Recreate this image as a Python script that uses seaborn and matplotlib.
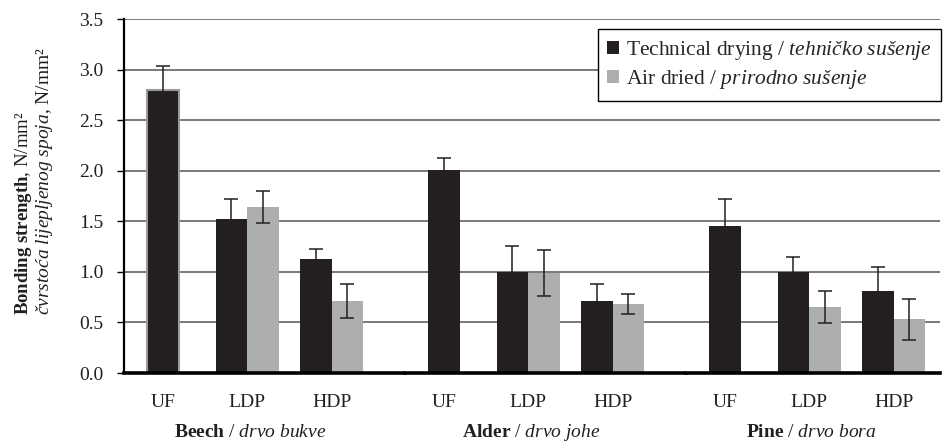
import numpy as np
import pandas as pd
import matplotlib
matplotlib.use("Agg")
import matplotlib.pyplot as plt
import seaborn as sns
from matplotlib.transforms import blended_transform_factory

# ---------------- data ----------------
species = ["Beech", "Alder", "Pine"]
species_local = ["drvo bukve", "drvo johe", "drvo bora"]
adhesives = ["UF", "LDP", "HDP"]

tech_name = "Technical drying"
tech_local = "tehničko sušenje"
air_name = "Air dried"
air_local = "prirodno sušenje"

# Technical drying: mean and error per species (UF, LDP, HDP)
beech_tech = [2.80, 1.52, 1.13]
alder_tech = [2.01, 1.00, 0.71]
pine_tech = [1.45, 1.00, 0.81]
beech_tech_err = [0.24, 0.20, 0.10]
alder_tech_err = [0.12, 0.26, 0.17]
pine_tech_err = [0.27, 0.15, 0.24]

# Air dried: no UF value
beech_air = [np.nan, 1.64, 0.71]
alder_air = [np.nan, 0.99, 0.68]
pine_air = [np.nan, 0.65, 0.53]
beech_air_err = [np.nan, 0.16, 0.17]
alder_air_err = [np.nan, 0.23, 0.10]
pine_air_err = [np.nan, 0.16, 0.20]

y_ticks = [0.0, 0.5, 1.0, 1.5, 2.0, 2.5, 3.0, 3.5]

# ---------------- style ----------------
sns.set_style("white")
plt.rcParams["font.family"] = ["Liberation Serif", "DejaVu Serif"]
plt.rcParams["mathtext.fontset"] = "custom"
plt.rcParams["mathtext.rm"] = "Liberation Serif"
plt.rcParams["mathtext.it"] = "Liberation Serif:italic"
plt.rcParams["mathtext.bf"] = "Liberation Serif:bold"

DARK = "#231f20"
GREY = "#adaeb0"
GRID = "#6e6e6e"
FS = 14

def mt(s):
    return s.replace(" ", r"\ ")

tech_lbl = tech_name + " / $\\mathit{" + mt(tech_local) + "}$"
air_lbl = air_name + " / $\\mathit{" + mt(air_local) + "}$"

tech_vals = {"Beech": (beech_tech, beech_tech_err),
             "Alder": (alder_tech, alder_tech_err),
             "Pine": (pine_tech, pine_tech_err)}
air_vals = {"Beech": (beech_air, beech_air_err),
            "Alder": (alder_air, alder_air_err),
            "Pine": (pine_air, pine_air_err)}

rows = []
for sp in species:
    for i, ad in enumerate(adhesives):
        m, e = tech_vals[sp]
        rows.append(dict(species=sp, adhesive=ad, drying=tech_lbl, value=m[i], err=e[i]))
        m, e = air_vals[sp]
        rows.append(dict(species=sp, adhesive=ad, drying=air_lbl, value=m[i], err=e[i]))
df = pd.DataFrame(rows).dropna()

# ---------------- figure ----------------
fig = plt.figure(figsize=(9.43, 4.43), dpi=100)
gs = fig.add_gridspec(1, 3, width_ratios=[281, 281, 254],
                      left=124 / 943, right=940 / 943,
                      bottom=1 - 373 / 443, top=1 - 19 / 443, wspace=0)
axes = []
for k in range(3):
    ax = fig.add_subplot(gs[0, k], sharey=axes[0] if axes else None)
    axes.append(ax)

px_per_cat = 84.4
bar_w = 31.5 / px_per_cat
handles, labels = None, None
for k, (ax, sp, sp_loc) in enumerate(zip(axes, species, species_local)):
    sub = df[df.species == sp]
    single = sub[sub.adhesive == "UF"]
    pair = sub[sub.adhesive != "UF"]
    sns.barplot(data=single, x="adhesive", y="value", order=adhesives,
                color=DARK, width=bar_w, saturation=1, errorbar=None, ax=ax,
                edgecolor=("#9a9a9a" if sp == "Beech" else DARK),
                linewidth=(1.5 if sp == "Beech" else 0))
    sns.barplot(data=pair, x="adhesive", y="value", order=adhesives,
                hue="drying", hue_order=[tech_lbl, air_lbl],
                palette=[DARK, GREY], width=2 * bar_w, saturation=1,
                errorbar=None, ax=ax, linewidth=0)
    if k == 0:
        handles, labels = ax.get_legend_handles_labels()
    if ax.get_legend() is not None:
        ax.get_legend().remove()

    # error bars positioned on the drawn bars
    for bar in ax.patches:
        h = bar.get_height()
        if not np.isfinite(h) or h <= 0:
            continue
        cx = bar.get_x() + bar.get_width() / 2
        match = sub.iloc[(sub.value - h).abs().argsort()[:1]]
        e = float(match.err.iloc[0])
        ax.errorbar(cx, h, yerr=e, fmt="none", ecolor=DARK, elinewidth=1.1,
                    capsize=5, capthick=1.1, zorder=5)

    span = (281 if k < 2 else 254) / px_per_cat
    ax.set_xlim(-0.46, -0.46 + span)
    ax.set_ylim(0, 3.5)
    ax.set_xlabel("")
    ax.set_ylabel("")
    ax.set_axisbelow(True)
    ax.yaxis.grid(True, color=GRID, linewidth=1.3)
    ax.xaxis.grid(False)
    for s in ["top", "right"]:
        ax.spines[s].set_visible(False)
    ax.spines["bottom"].set_color("black")
    ax.spines["bottom"].set_linewidth(2.6)
    ax.tick_params(axis="x", length=0, pad=15, labelsize=FS, colors="#231f20")
    if k == 0:
        ax.spines["left"].set_color("black")
        ax.spines["left"].set_linewidth(1.6)
        ax.set_yticks(y_ticks)
        ax.set_yticklabels([f"{v:.1f}" for v in y_ticks])
        ax.tick_params(axis="y", left=True, length=5, width=1, pad=10,
                       labelsize=FS, colors="black", labelcolor="#231f20")
    else:
        ax.spines["left"].set_visible(False)
        ax.tick_params(axis="y", left=False, labelleft=False)

    tr = blended_transform_factory(ax.transData, ax.transAxes)
    ax.text(1.03, -0.168, "$\\mathbf{" + mt(sp) + "}$ / $\\mathit{" + mt(sp_loc) + "}$",
            transform=tr, ha="center", va="center", fontsize=FS, color="#231f20")

# y label (two lines)
fig.text(24 / 943, 1 - 315 / 443, "$\\mathbf{Bonding\\ strength}$, N/mm²",
         rotation=90, ha="center", va="bottom", fontsize=13.5, color="#231f20")
fig.text(45 / 943, 1 - 315 / 443, "$\\mathit{" + mt("čvrstoća lijepljenog spoja") + "}$, N/mm²",
         rotation=90, ha="center", va="bottom", fontsize=FS, color="#231f20")

leg = fig.legend(handles, labels, loc="upper right",
                 bbox_to_anchor=(941 / 943, 1 - 29 / 443), borderaxespad=0,
                 fontsize=15.5, frameon=True, fancybox=False, edgecolor="black",
                 handlelength=0.55, handleheight=0.55, handletextpad=0.3,
                 labelspacing=0.3, borderpad=0.45)
leg.get_frame().set_linewidth(1.0)
leg.get_frame().set_alpha(1)

fig.savefig("out.png", dpi=100)
